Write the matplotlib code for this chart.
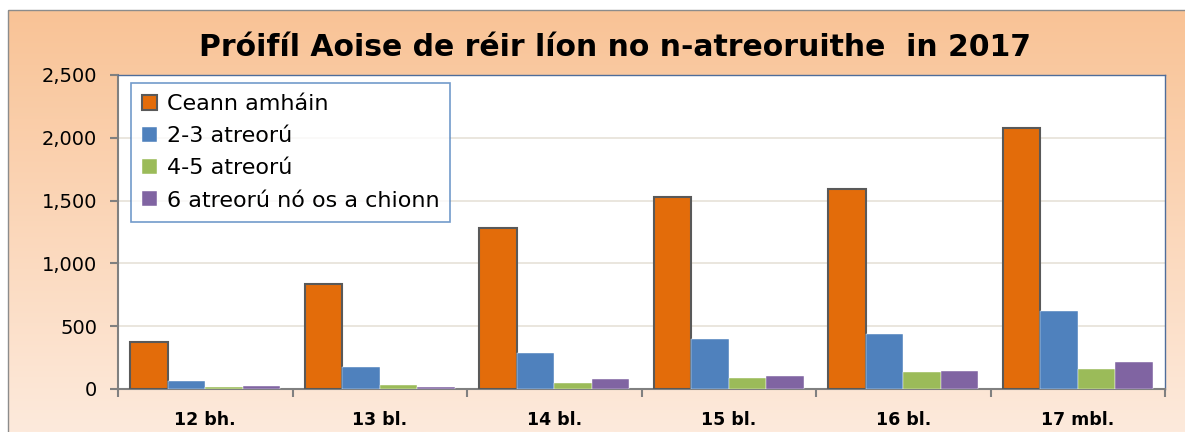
import numpy as np
import matplotlib
matplotlib.use("Agg")
from matplotlib import pyplot as plt
from matplotlib.patches import Rectangle

plt.rcParams['font.family'] = ['DejaVu Sans']

# Age groups and counts per number of repeats
categories = ['12 bh.', '13 bl.', '14 bl.', '15 bl.', '16 bl.', '17 mbl.']
one_repeat = [375, 836, 1282, 1529, 1592, 2078]
two_three = [64, 173, 284, 396, 438, 619]
four_five = [18, 32, 48, 90, 135, 159]
six_plus = [20, 16, 77, 104, 143, 215]

series_names = ['Ceann amháin', '2-3 atreorú', '4-5 atreorú', '6 atreorú nó os a chionn']
colors = ['#E36C0A', '#4F81BD', '#9BBB59', '#8064A2']

fig = plt.figure(figsize=(11.85, 4.32), dpi=100)
fig.patch.set_facecolor('white')

# gradient background panel
bg = fig.add_axes([0, 0, 1, 1], zorder=0)
bg.set_xlim(0, 1185)
bg.set_ylim(432, 0)
bg.axis('off')
top_c = np.array([249, 195, 150]) / 255
bot_c = np.array([253, 234, 220]) / 255
t = np.linspace(0, 1, 256)[:, None, None]
grad = top_c * (1 - t) + bot_c * t
grad = np.repeat(grad, 2, axis=1)
bg.imshow(grad, extent=[8, 1185, 432, 10], aspect='auto', interpolation='bilinear')
bg.add_patch(Rectangle((8, 10), 1190, 430, fill=False, edgecolor='#8C8C8C', lw=1))

ax = fig.add_axes([118 / 1185, 43 / 432, 1047 / 1185, 314 / 432], zorder=1)
ax.set_facecolor('white')

x = np.arange(len(categories))
w = 0.215
data = [one_repeat, two_three, four_five, six_plus]
for i, (vals, c, name) in enumerate(zip(data, colors, series_names)):
    off = (i - 1.5) * w
    if i == 0:
        ax.bar(x + off, vals, w, color=c, edgecolor='#595959', linewidth=1.5, label=name, zorder=3)
    else:
        ax.bar(x + off, vals, w, color=c, edgecolor='white', linewidth=0.3, label=name, zorder=3)

ax.set_xlim(-0.5, len(categories) - 0.5)
ax.set_ylim(0, 2500)
ax.set_yticks(np.arange(0, 2501, 500))
ax.set_yticklabels([f'{v:,}' for v in range(0, 2501, 500)], fontsize=14)
ax.yaxis.grid(True, color='#E6E2D8', lw=1.2, zorder=0)

ax.set_xticks(x)
ax.set_xticklabels(categories, fontsize=12.5, fontweight='bold')
ax.set_xticks(np.arange(-0.5, len(categories)), minor=True)
ax.tick_params(axis='x', which='major', length=0, pad=16)
ax.tick_params(axis='x', which='minor', length=6, color='#808080', width=1.5)
ax.tick_params(axis='y', length=6, color='#808080', width=1.5, pad=9)

for s in ['left', 'bottom']:
    ax.spines[s].set_color('#808080')
    ax.spines[s].set_linewidth(1.5)
for s in ['top', 'right']:
    ax.spines[s].set_color('#4F6D9A')
    ax.spines[s].set_linewidth(1)

leg = ax.legend(loc='upper left', bbox_to_anchor=(0.0124, 0.975), borderaxespad=0,
                fontsize=16, frameon=True, fancybox=False, edgecolor='#4F81BD',
                handlelength=0.65, handleheight=0.65, handletextpad=0.45,
                labelspacing=0.55, borderpad=0.5)
leg.get_frame().set_linewidth(1.2)

fig.text(615 / 1185, 1 - 47 / 432, 'Próifíl Aoise de réir líon no n-atreoruithe  in 2017',
         ha='center', va='center', fontsize=21.5, fontweight='bold')

fig.savefig('out.png', dpi=100)
